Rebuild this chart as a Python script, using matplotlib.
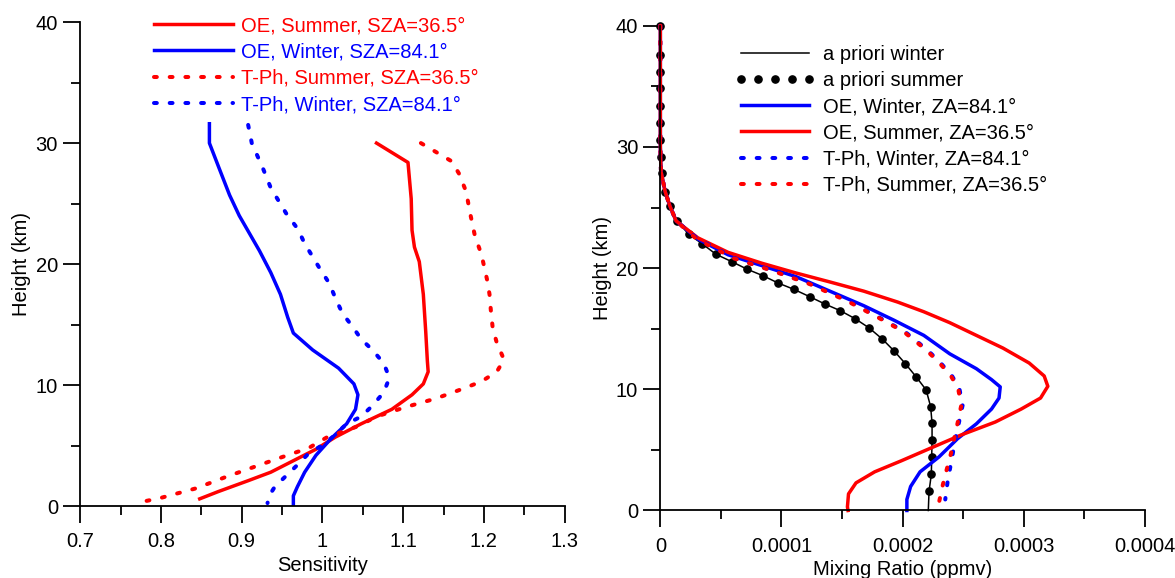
import numpy as np
import matplotlib
matplotlib.use('Agg')
import matplotlib.pyplot as plt
from matplotlib.ticker import MultipleLocator, FuncFormatter

plt.rcParams['font.family'] = ['Liberation Sans', 'DejaVu Sans']

RED = '#ff0000'
BLUE = '#0000ff'

# ── left panel: sensitivity profiles ─────────────────────────────────────────
oe_summer_h = [30.0, 28.4, 25.4, 22.8, 21.4, 20.2, 17.5, 14.4, 12.0, 11.1, 10.1,
               9.2, 8.0, 6.8, 5.7, 4.7, 3.75, 2.8, 2.1, 1.2, 0.6]
oe_summer_s = [1.067, 1.106, 1.110, 1.111, 1.114, 1.120, 1.125, 1.128, 1.130, 1.131, 1.125,
               1.111, 1.086, 1.048, 1.016, 0.992, 0.964, 0.936, 0.908, 0.871, 0.848]

oe_winter_h = [31.6, 30.0, 28.1, 25.7, 24.0, 21.1, 19.3, 17.5, 15.6, 14.3, 12.9,
               11.4, 10.1, 9.2, 8.0, 6.8, 5.6, 4.2, 2.8, 1.6, 0.85, 0.1]
oe_winter_s = [0.860, 0.860, 0.871, 0.885, 0.897, 0.922, 0.936, 0.948, 0.957, 0.964, 0.988,
               1.020, 1.039, 1.044, 1.041, 1.030, 1.011, 0.992, 0.978, 0.969, 0.964, 0.964]

tph_summer_h = [30.0, 28.5, 27.5, 26.0, 24.2, 22.3, 20.8, 18.7, 17.5, 15.9, 14.7, 13.5,
                12.1, 11.1, 10.3, 9.7, 8.9, 8.2, 7.4, 6.6, 5.7, 4.8, 4.05, 3.3, 2.4,
                1.46, 0.7, 0.4]
tph_summer_s = [1.122, 1.160, 1.169, 1.178, 1.183, 1.189, 1.197, 1.204, 1.207, 1.209, 1.211, 1.216,
                1.225, 1.216, 1.197, 1.174, 1.141, 1.104, 1.067, 1.044, 1.006, 0.983, 0.950, 0.918, 0.880,
                0.843, 0.801, 0.780]

tph_winter_h = [31.5, 30.0, 27.8, 26.3, 24.2, 22.9, 21.7, 19.6, 18.4, 17.2, 15.9, 14.9,
                13.8, 12.9, 11.8, 10.6, 9.4, 8.3, 7.4, 6.8, 5.9, 5.1, 4.36, 3.4, 2.5,
                1.6, 0.85, 0.25]
tph_winter_s = [0.908, 0.9125, 0.927, 0.936, 0.955, 0.9695, 0.978, 0.997, 1.0086, 1.016, 1.025, 1.0366,
                1.048, 1.062, 1.076, 1.083, 1.076, 1.062, 1.048, 1.030, 1.016, 1.0016, 0.983, 0.969, 0.955,
                0.941, 0.934, 0.932]

# ── right panel: mixing ratio profiles (values in 1e-6 ppmv) ─────────────────
apriori_h = [40.0, 37.57, 36.2, 34.83, 33.37, 31.94, 30.57, 29.2, 27.83, 26.31, 25.10,
             23.88, 22.81, 21.99, 21.14, 20.53, 19.92, 19.38, 18.77, 18.25, 17.64,
             17.03, 16.49, 15.82, 15.06, 14.14, 13.14, 12.11, 11.01, 9.95, 8.58,
             7.21, 5.78, 4.41, 2.98, 1.58]
apriori_x = [0.0, 0.0, 0.0, 0.0, 0.0, 0.0, 0.0, 0.3, 1.6, 3.7, 7.8,
             14.0, 23.3, 34.8, 46.0, 59.1, 71.5, 84.6, 97.3, 110.3, 123.4,
             136.1, 148.6, 161.0, 172.5, 183.4, 193.3, 202.4, 211.4, 219.5, 223.2,
             224.4, 224.4, 224.1, 223.8, 221.9]
apriori_w_h = apriori_h + [0.0]
apriori_w_x = apriori_x + [221.3]

oe_w_h = [40, 35, 30, 28, 26.3, 25.1, 23.9, 22.4, 21.1, 20.2, 19.3, 18.1, 16.9, 15.7,
          14.45, 12.93, 11.7, 10.8, 10.2, 9.28, 8.37, 7.15, 5.93, 4.41, 3.19, 1.98, 0.91, 0.0]
oe_w_x = [0, 0, 0, 0.5, 4, 8, 13, 31, 56, 84, 112, 140, 168, 193,
          217.6, 239, 261, 273.5, 280.7, 279.7, 273.5, 261, 245.5, 230, 214.5, 206.7, 203.6, 203.6]

oe_s_h = [40, 35, 30, 28, 26.3, 25.1, 23.9, 22.5, 21.3, 20.4, 19.6, 18.86, 18.1, 17.2,
          16.4, 15.5, 14.45, 13.4, 12.17, 11.1, 10.25, 9.28, 8.37, 7.3, 6.24, 5.17, 4.1,
          3.19, 2.28, 1.37, 0.3, 0.0]
oe_s_x = [0, 0, 0, 0.5, 4, 8, 13, 31, 56, 84, 112, 140, 168, 196,
          217.6, 239, 261, 283, 304.6, 317, 320, 314, 298, 276.6, 248.6, 223.8, 199,
          177, 161.6, 155.4, 154.5, 155]

tph_w_h = [40, 35, 30, 28, 26.3, 25.1, 23.9, 22.4, 20.8, 19.8, 18.7, 17.3, 15.97, 14.75,
           13.23, 12.17, 11.1, 10.04, 8.67, 7.45, 6.08, 4.87, 3.5, 2.28, 0.91]
tph_w_x = [0, 0, 0, 0.5, 4, 8, 13, 31, 62, 93, 124, 155, 180, 202,
           220.7, 231.5, 240.9, 247, 249.6, 247, 244, 241.8, 239.3, 237.1, 235.3]

tph_s_h = [40, 35, 30, 28, 26.3, 25.1, 23.9, 22.4, 20.8, 19.8, 18.7, 17.3, 15.97, 14.75,
           13.23, 12.17, 11.1, 10.04, 8.67, 7.45, 6.1, 4.7, 3.2, 2.0, 0.6]
tph_s_x = [0, 0, 0, 0.5, 4, 8, 13, 30, 61, 92, 123, 154, 179, 201,
           219.7, 230.5, 240, 246, 248.5, 246, 243, 240, 236, 233, 230]

FS = 14.5
LW = 2.5
DOT_LW = 2.9
DOT = (0, (0.7, 3.2))


def style_ax(ax):
    ax.spines['top'].set_visible(False)
    ax.spines['right'].set_visible(False)
    for sp in ('left', 'bottom'):
        ax.spines[sp].set_linewidth(1.3)
    ax.tick_params(which='major', direction='out', length=12, width=1.3,
                   labelsize=FS)
    ax.tick_params(which='minor', direction='out', length=6.5, width=1.3)
    ax.tick_params(axis='x', which='both', pad=7)
    ax.tick_params(axis='y', which='both', pad=4)
    ax.yaxis.set_major_locator(MultipleLocator(10))
    ax.yaxis.set_minor_locator(MultipleLocator(5))
    ax.set_ylim(0, 40)
    ax.set_ylabel('Height (km)', fontsize=FS, labelpad=3)


fig = plt.figure(figsize=(11.75, 5.78), dpi=100, facecolor='white')
ax1 = fig.add_axes([0.0683, 0.1244, 0.4122, 0.8374])
ax2 = fig.add_axes([0.5620, 0.1168, 0.4122, 0.8386])

# left
ax1.plot(oe_summer_s, oe_summer_h, color=RED, lw=LW, label='OE, Summer, SZA=36.5°')
ax1.plot(oe_winter_s, oe_winter_h, color=BLUE, lw=LW, label='OE, Winter, SZA=84.1°')
ax1.plot(tph_summer_s, tph_summer_h, color=RED, lw=DOT_LW, ls=DOT,
         dash_capstyle='round', label='T-Ph, Summer, SZA=36.5°')
ax1.plot(tph_winter_s, tph_winter_h, color=BLUE, lw=DOT_LW, ls=DOT,
         dash_capstyle='round', label='T-Ph, Winter, SZA=84.1°')
style_ax(ax1)
ax1.set_xlim(0.7, 1.3)
ax1.xaxis.set_major_locator(MultipleLocator(0.1))
ax1.xaxis.set_minor_locator(MultipleLocator(0.05))
ax1.xaxis.set_major_formatter(FuncFormatter(lambda v, p: f'{v:g}'))
ax1.set_xlabel('Sensitivity', fontsize=FS, labelpad=3)
ax1.legend(loc='upper left', bbox_to_anchor=(0.152, 1.012), frameon=False,
           fontsize=FS, handlelength=3.95, handletextpad=0.4, labelspacing=0.36,
           borderpad=0, borderaxespad=0, labelcolor='linecolor')

# right
s = 1e-6
ax2.plot(np.array(apriori_w_x) * s, apriori_w_h, color='black', lw=1.1,
         label='a priori winter', clip_on=False)
ax2.plot(np.array(apriori_x) * s, apriori_h, ls='none', marker='o', ms=5.2,
         color='black', label='a priori summer', clip_on=False)
ax2.plot(np.array(oe_w_x) * s, oe_w_h, color=BLUE, lw=LW,
         label='OE, Winter, ZA=84.1°', clip_on=False)
ax2.plot(np.array(oe_s_x) * s, oe_s_h, color=RED, lw=LW,
         label='OE, Summer, ZA=36.5°', clip_on=False)
ax2.plot(np.array(tph_w_x) * s, tph_w_h, color=BLUE, lw=DOT_LW, ls=DOT,
         dash_capstyle='round', label='T-Ph, Winter, ZA=84.1°', clip_on=False)
ax2.plot(np.array(tph_s_x) * s, tph_s_h, color=RED, lw=DOT_LW, ls=DOT,
         dash_capstyle='round', label='T-Ph, Summer, ZA=36.5°', clip_on=False)
style_ax(ax2)
ax2.set_xlim(0, 0.0004)
ax2.xaxis.set_major_locator(MultipleLocator(0.0001))
ax2.xaxis.set_minor_locator(MultipleLocator(0.00005))
ax2.xaxis.set_major_formatter(FuncFormatter(lambda v, p: f'{v:g}'))
ax2.set_xlabel('Mixing Ratio (ppmv)', fontsize=FS, labelpad=3)
ax2.legend(loc='upper left', bbox_to_anchor=(0.155, 0.961), frameon=False,
           fontsize=FS, handlelength=3.95, handletextpad=0.4, labelspacing=0.36,
           borderpad=0, borderaxespad=0, numpoints=5)

fig.savefig('out.png', dpi=100, facecolor='white')
